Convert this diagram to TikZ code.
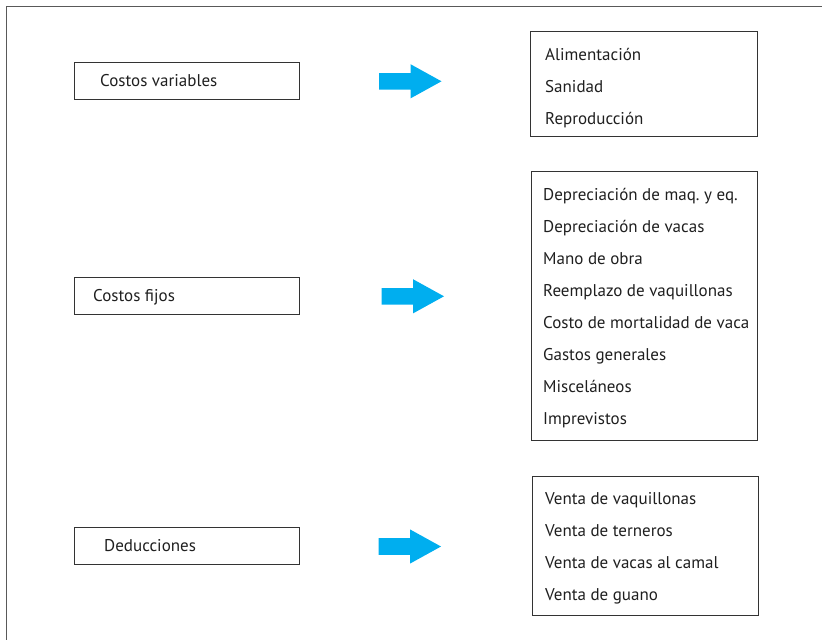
\documentclass[tikz,border=0pt]{standalone}
\usepackage{fontspec}
\setmainfont{PT Sans}
\frenchspacing
\begin{document}
\begin{tikzpicture}[x=1pt,y=-1pt,
  boxline/.style={draw=black!80,line width=1pt},
  catbox/.style={boxline,rectangle,inner sep=0pt,minimum width=225pt,minimum height=37pt},
  listbox/.style={boxline,rectangle,inner sep=0pt},
  txt/.style={anchor=base west,inner sep=0pt,text=black!88,font=\fontsize{17}{19}\selectfont}]
\definecolor{arrowblue}{HTML}{00AEEF}
\useasboundingbox (0,0) rectangle (822,640);
% outer frame: top and left rules only
\draw[draw=black!65,line width=1pt] (822,6.5) -- (6,6.5) -- (6,640);

% category boxes on the left
\node[catbox] (cvbox) at (186.5,80.5) {};
\node[catbox] (cfbox) at (186.5,295.5) {};
\node[catbox] (dbox) at (186.5,545.5) {};
\node[txt] (cvtxt) at (100,86) {Costos variables};
\node[txt] (cftxt) at (93,301) {Costos fijos};
\node[txt] (dtxt) at (104,551) {Deducciones};

% item lists on the right
\node[listbox,minimum width=227pt,minimum height=105pt] (vlist) at (643.5,83.5) {};
\node[listbox,minimum width=226pt,minimum height=269pt] (flist) at (644,305.5) {};
\node[listbox,minimum width=226pt,minimum height=139pt] (dlist) at (645,545.5) {};

\foreach \t [count=\i] in {Alimentación,Sanidad,Reproducción}
  \node[txt] (v\i) at (545,{60+32*(\i-1)}) {\t};
\foreach \t [count=\i] in {Depreciación de maq. y eq.,Depreciación de vacas,Mano de obra,
    Reemplazo de vaquillonas,Costo de mortalidad de vaca,Gastos generales,Misceláneos,Imprevistos}
  \node[txt] (f\i) at (543,{200+32*(\i-1)}) {\t};
\foreach \t [count=\i] in {Venta de vaquillonas,Venta de terneros,Venta de vacas al camal,Venta de guano}
  \node[txt] (d\i) at (545,{504+32*(\i-1)}) {\t};

% block arrows between each category and its list
\foreach \x/\y [count=\k] in {379/81.3,381.5/296.3,378.5/546.5}{
  \fill[arrowblue] (\x,\y-8.3) -- ++(31.5,0) -- ++(0,-8.8) -- ++(31,17.1)
     -- ++(-31,17.1) -- ++(0,-8.8) -- ++(-31.5,0) -- cycle;
}
\end{tikzpicture}
\end{document}
